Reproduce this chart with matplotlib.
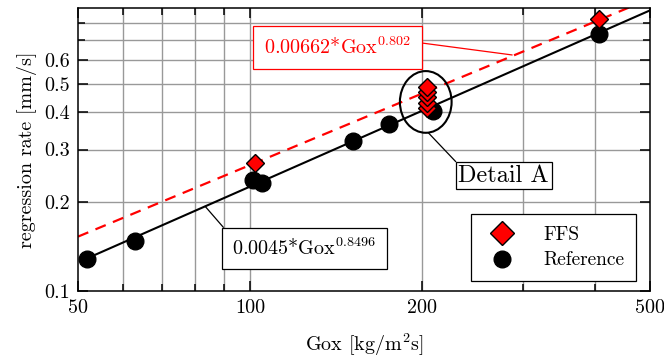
import matplotlib
matplotlib.use("Agg")
import matplotlib.pyplot as plt
import numpy as np
from matplotlib.patches import Ellipse
from matplotlib.ticker import FixedLocator, NullFormatter, FixedFormatter

plt.rcParams['font.family'] = ['cmr10', 'DejaVu Serif']
plt.rcParams['mathtext.fontset'] = 'cm'
plt.rcParams['axes.formatter.use_mathtext'] = True

# Data
ref_gox = [51.9, 62.9, 101.3, 104.8, 151.3, 175.0, 208.7, 407.6]
ref_rate = [0.1285, 0.1476, 0.2374, 0.2313, 0.320, 0.366, 0.406, 0.738]
ffs_gox = [102.0, 204.0, 204.0, 204.0, 204.0, 204.0, 407.6]
ffs_rate = [0.270, 0.413, 0.432, 0.450, 0.468, 0.486, 0.825]

# Fit parameters
ref_a, ref_b = 0.0045, 0.8496
ffs_a, ffs_b = 0.00662, 0.802

x_ticks = [50, 100, 200, 500]
x_ticklabels = ['50', '100', '200', '500']
x_minor = [60, 70, 80, 90, 300, 400]
y_ticks = [0.1, 0.2, 0.3, 0.4, 0.5, 0.6]
y_ticklabels = ['0.1', '0.2', '0.3', '0.4', '0.5', '0.6']
y_minor = [0.7, 0.8]

fig = plt.figure(figsize=(6.64, 3.63), dpi=100)
ax = fig.add_axes([0.1175, 0.1983, 0.8615, 0.7797])
ax.set_xscale('log')
ax.set_yscale('log')
ax.set_xlim(50, 500)
ax.set_ylim(0.1, 0.9)

# grid lines
for xv in x_ticks[1:-1] + x_minor:
    ax.axvline(xv, color='#999999', lw=1.0, zorder=0)
for yv in y_ticks[1:] + y_minor:
    ax.axhline(yv, color='#999999', lw=1.0, zorder=0)

# fits
gx = np.logspace(np.log10(50), np.log10(500), 200)
gx_ref = np.logspace(np.log10(ref_gox[0]), np.log10(500), 200)
ax.plot(gx, ffs_a * gx ** ffs_b, color='red', lw=1.6, ls=(0, (5, 3.5)), zorder=2)
ax.plot(gx_ref, ref_a * gx_ref ** ref_b, color='black', lw=1.5, zorder=2)

ax.plot(ref_gox, ref_rate, 'o', color='black', ms=12, zorder=3, label='Reference')
ax.plot(ffs_gox, ffs_rate, 'D', mfc='red', mec='black', mew=1.0, ms=9.3, zorder=4, label='FFS')

ax.xaxis.set_major_locator(FixedLocator(x_ticks))
ax.xaxis.set_major_formatter(FixedFormatter(x_ticklabels))
ax.xaxis.set_minor_locator(FixedLocator(x_minor))
ax.xaxis.set_minor_formatter(NullFormatter())
ax.yaxis.set_major_locator(FixedLocator(y_ticks))
ax.yaxis.set_major_formatter(FixedFormatter(y_ticklabels))
ax.yaxis.set_minor_locator(FixedLocator(y_minor))
ax.yaxis.set_minor_formatter(NullFormatter())
ax.tick_params(which='both', direction='in', top=True, right=True, color='black',
               width=1.1, labelsize=14.5)
ax.tick_params(which='major', length=7.5, pad=6)
ax.tick_params(which='minor', length=5)
for s in ax.spines.values():
    s.set_linewidth(1.1)

ax.set_xlabel(r'Gox [kg/m$^2$s]', fontsize=14.5, labelpad=10)
ax.set_ylabel('regression rate [mm/s]', fontsize=14.5, labelpad=5)

# annotations
ax.annotate(r'0.00662*Gox$^{0.802}$', xy=(287, 0.625), xytext=(142, 0.663),
            color='red', fontsize=14.5, ha='center', va='center',
            bbox=dict(boxstyle='square,pad=0.55', fc='white', ec='red', lw=0.9),
            arrowprops=dict(arrowstyle='-', color='red', lw=0.9, relpos=(1, 0.77),
                            shrinkA=0, shrinkB=0), zorder=5)
ax.annotate(r'0.0045*Gox$^{0.8496}$', xy=(83.4, 0.193), xytext=(124.4, 0.139),
            color='black', fontsize=14.5, ha='center', va='center',
            bbox=dict(boxstyle='square,pad=0.5', fc='white', ec='black', lw=0.9),
            arrowprops=dict(arrowstyle='-', color='black', lw=0.9, relpos=(0, 1),
                            shrinkA=0, shrinkB=0), zorder=5)
ax.annotate('Detail A', xy=(204.9, 0.3413), xytext=(277.5, 0.245),
            color='black', fontsize=17.5, ha='center', va='center',
            bbox=dict(boxstyle='square,pad=0.1', fc='white', ec='black', lw=0.9),
            arrowprops=dict(arrowstyle='-', color='black', lw=0.9, relpos=(0, 1),
                            shrinkA=0, shrinkB=0), zorder=5)

# detail ellipse
fig.canvas.draw()
cx, cy = (ax.transData + ax.transAxes.inverted()).transform((202.7, 0.434))
ax.add_patch(Ellipse((cx, cy), 0.0904, 0.218, transform=ax.transAxes, fill=False,
                     ec='black', lw=1.5, zorder=5))

leg = ax.legend(handles=[ax.lines[-1], ax.lines[-2]], loc='lower right',
                bbox_to_anchor=(0.975, 0.035), fontsize=14, frameon=True,
                fancybox=False, edgecolor='black', framealpha=1, borderpad=0.6,
                handletextpad=1.1, labelspacing=0.4, markerscale=1.0, borderaxespad=0)
leg.get_frame().set_linewidth(0.9)
leg.legend_handles[0].set_markersize(12)

fig.savefig('out.png', dpi=100)
